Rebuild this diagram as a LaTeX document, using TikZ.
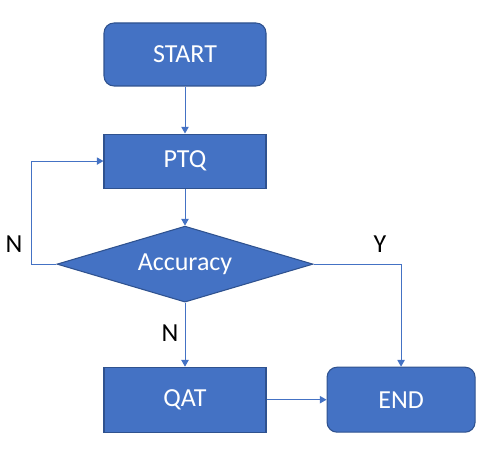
\documentclass[tikz,border=0pt]{standalone}
\usepackage{fontspec}
\setmainfont{Carlito}
\usetikzlibrary{arrows.meta, positioning, shapes.geometric}
\definecolor{flowblue}{HTML}{4472C4}
\definecolor{flowedge}{HTML}{2F528F}

\begin{document}
\begin{tikzpicture}[
  x=0.75pt, y=-0.75pt,
  node distance=1cm,
  box/.style={rectangle, minimum width=121.5pt, minimum height=48.75pt, align=center, font=\fontsize{19.5}{22}\selectfont, text=white, fill=flowblue, draw=flowedge, line width=0.8pt},
  term/.style={box, rounded corners=7.5pt},
  decision/.style={diamond, aspect=3.37, inner sep=0pt, minimum width=192pt, minimum height=57pt, font=\fontsize{19.5}{22}\selectfont, text=white, fill=flowblue, draw=flowedge, line width=0.8pt},
  lbl/.style={font=\fontsize{19.5}{22}\selectfont, text=black},
  arrow/.style={-{Triangle[length=5pt, width=5.5pt]}, line width=0.75pt, flowblue}
]
  \useasboundingbox (0,0) rectangle (503,459);

  % Start / main flow
  \node[term, minimum height=47.25pt] (start) at (185,54.5) {START};
  \node[box, minimum height=40.5pt, below=35.25pt of start] (ptq) {PTQ};
  \node[decision, below=27.75pt of ptq] (acc) {Accuracy};

  % Bottom row
  \node[box, below=48pt of acc] (qat) {QAT};
  \node[term, minimum width=111pt, right=45pt of qat] (end) {END};

  % Labels
  \node[lbl] (nleft) at (14,244) {N};
  \node[lbl] (yright) at (380,244) {Y};
  \node[lbl] (ndown) at (170,333) {N};

  % Arrows
  \draw[arrow] (start) -- (ptq);
  \draw[arrow] (ptq) -- (acc);
  \draw[arrow] (acc.west) -- ++(-25,0) |- (ptq.west);
  \draw[arrow] (acc.east) -| (end.north);
  \draw[arrow] (acc) -- (qat);
  \draw[arrow] (qat) -- (end);
\end{tikzpicture}
\end{document}
